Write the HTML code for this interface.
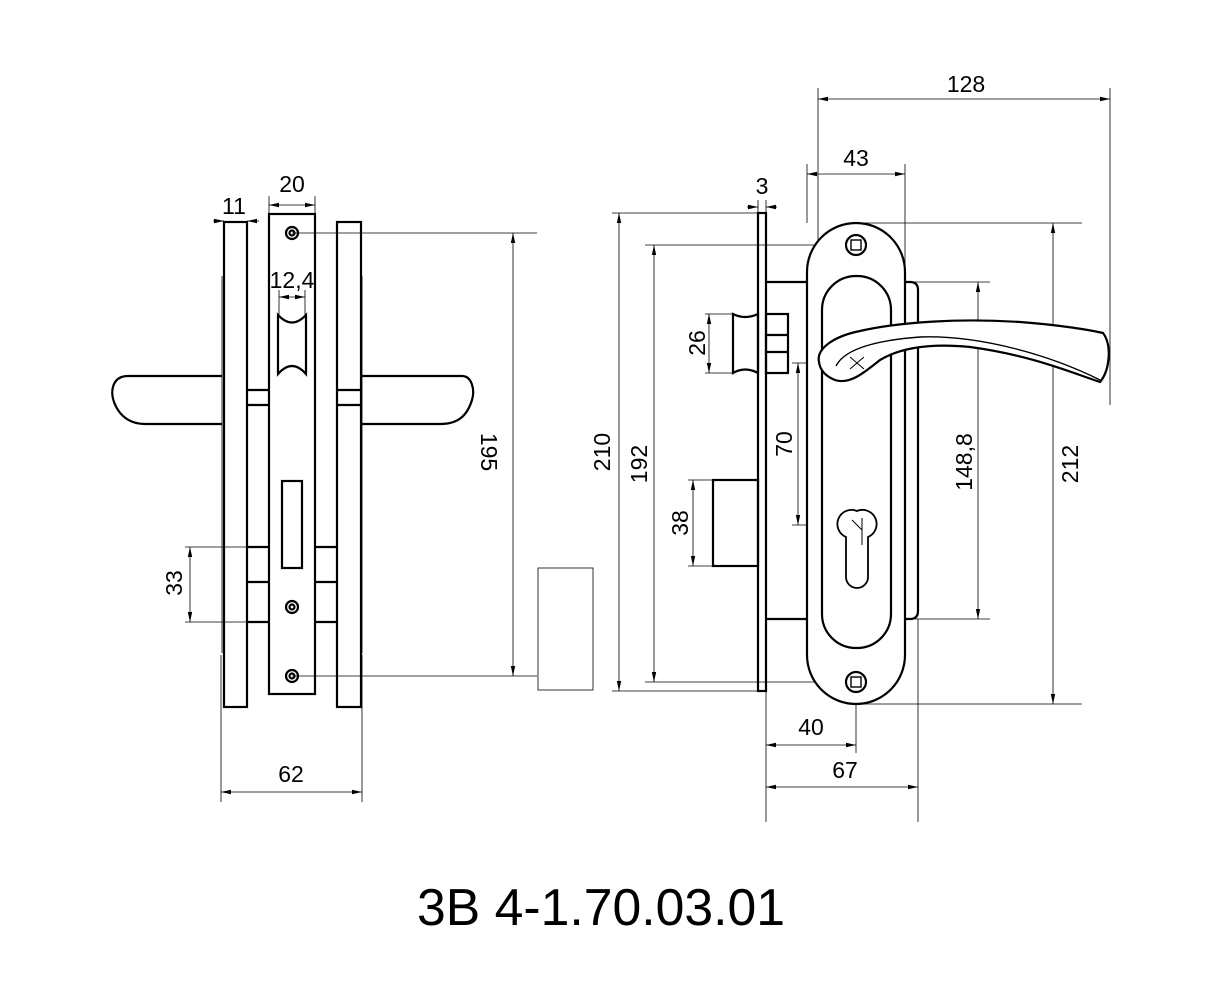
<!DOCTYPE html>
<html><head><meta charset="utf-8"><style>html,body{margin:0;padding:0;background:#fff}svg{display:block}</style></head>
<body>
<svg width="1223" height="1000" viewBox="0 0 1223 1000" xmlns="http://www.w3.org/2000/svg" font-family="Liberation Sans, sans-serif">
<defs>
<marker id="a" viewBox="0 0 10 6" refX="10" refY="3" markerWidth="10" markerHeight="6" orient="auto-start-reverse" markerUnits="userSpaceOnUse"><path d="M0,0.8 L10,3 L0,5.2z" fill="#000"/></marker>
</defs>
<rect width="1223" height="1000" fill="#fff"/>
<g stroke="#000" stroke-width="0.8" fill="none">
<line x1="292" y1="233" x2="537" y2="233"/><line x1="292" y1="676" x2="537" y2="676"/>
<line x1="513" y1="233" x2="513" y2="676" marker-start="url(#a)" marker-end="url(#a)"/>
<line x1="185" y1="547" x2="247" y2="547"/><line x1="185" y1="622" x2="247" y2="622"/>
<line x1="190" y1="547" x2="190" y2="622" marker-start="url(#a)" marker-end="url(#a)"/>
<line x1="213" y1="221" x2="224" y2="221" marker-end="url(#a)"/><line x1="259" y1="221" x2="247" y2="221" marker-end="url(#a)"/>
<line x1="269" y1="196" x2="269" y2="214"/><line x1="315" y1="196" x2="315" y2="214"/>
<line x1="269" y1="205" x2="315" y2="205" marker-start="url(#a)" marker-end="url(#a)"/>
<line x1="279" y1="290" x2="279" y2="315"/><line x1="305" y1="290" x2="305" y2="315"/>
<line x1="279" y1="297" x2="305" y2="297" marker-start="url(#a)" marker-end="url(#a)"/>
<line x1="221" y1="655" x2="221" y2="802"/><line x1="362" y1="655" x2="362" y2="802"/>
<line x1="221" y1="792" x2="362" y2="792" marker-start="url(#a)" marker-end="url(#a)"/>
<rect x="538" y="568" width="55" height="122"/>
<line x1="612" y1="213" x2="758" y2="213"/><line x1="612" y1="691" x2="758" y2="691"/>
<line x1="619" y1="213" x2="619" y2="691" marker-start="url(#a)" marker-end="url(#a)"/>
<line x1="645" y1="245" x2="856" y2="245"/><line x1="645" y1="682" x2="856" y2="682"/>
<line x1="654" y1="245" x2="654" y2="682" marker-start="url(#a)" marker-end="url(#a)"/>
<line x1="705" y1="314" x2="733" y2="314"/><line x1="705" y1="373" x2="733" y2="373"/>
<line x1="709" y1="314" x2="709" y2="373" marker-start="url(#a)" marker-end="url(#a)"/>
<line x1="688" y1="480" x2="713" y2="480"/><line x1="688" y1="566" x2="713" y2="566"/>
<line x1="693" y1="480" x2="693" y2="566" marker-start="url(#a)" marker-end="url(#a)"/>
<line x1="792" y1="363" x2="868" y2="363"/><line x1="792" y1="525" x2="868" y2="525"/>
<line x1="798" y1="363" x2="798" y2="525" marker-start="url(#a)" marker-end="url(#a)"/>
<line x1="905" y1="282" x2="990" y2="282"/><line x1="915" y1="619" x2="990" y2="619"/>
<line x1="978" y1="282" x2="978" y2="619" marker-start="url(#a)" marker-end="url(#a)"/>
<line x1="856" y1="223" x2="1082" y2="223"/><line x1="860" y1="704" x2="1082" y2="704"/>
<line x1="1053" y1="223" x2="1053" y2="704" marker-start="url(#a)" marker-end="url(#a)"/>
<line x1="818" y1="88" x2="818" y2="373"/><line x1="1110" y1="88" x2="1110" y2="405"/>
<line x1="818" y1="99" x2="1110" y2="99" marker-start="url(#a)" marker-end="url(#a)"/>
<line x1="807" y1="164" x2="807" y2="223"/><line x1="905" y1="164" x2="905" y2="282"/>
<line x1="807" y1="174" x2="905" y2="174" marker-start="url(#a)" marker-end="url(#a)"/>
<line x1="758" y1="200" x2="758" y2="213"/><line x1="766" y1="200" x2="766" y2="213"/>
<line x1="747" y1="207" x2="758" y2="207" marker-end="url(#a)"/><line x1="777" y1="207" x2="766" y2="207" marker-end="url(#a)"/>
<line x1="766" y1="691" x2="766" y2="822"/><line x1="856" y1="690" x2="856" y2="753"/><line x1="918" y1="619" x2="918" y2="822"/>
<line x1="766" y1="745" x2="856" y2="745" marker-start="url(#a)" marker-end="url(#a)"/>
<line x1="766" y1="787" x2="918" y2="787" marker-start="url(#a)" marker-end="url(#a)"/>
<line x1="222" y1="276" x2="222" y2="653"/><line x1="362" y1="276" x2="362" y2="653"/>
</g>
<g stroke="#000" stroke-width="2.2" fill="none">
<rect x="224" y="222" width="23" height="485"/>
<rect x="337" y="222" width="24" height="485"/>
<rect x="269" y="214" width="46" height="480"/>
<path d="M222,376 H128 C112,376 110,392 114,402 C120,418 132,424 145,424 H222"/>
<path d="M362,376 H462 C472,376 475,390 472,400 C467,416 458,424 440,424 H362"/>
<path d="M247,390 H269 M247,405 H269 M337,390 H361 M337,405 H361"/>
<path d="M247,547 H269 M247,582 H269 M247,622 H269 M315,547 H337 M315,582 H337 M315,622 H337"/>
<path d="M278,315 Q292,330 306,315 V374 Q292,358 278,374 Z"/>
<rect x="282" y="481" width="20" height="87"/>
<circle cx="292" cy="233" r="6"/><circle cx="292" cy="233" r="2.5"/>
<circle cx="292" cy="607" r="6"/><circle cx="292" cy="607" r="2.5"/>
<circle cx="292" cy="676" r="6"/><circle cx="292" cy="676" r="2.5"/>
<rect x="758" y="213" width="8" height="478"/>
<path d="M766,282 H910 Q918,282 918,290 V611 Q918,619 910,619 H766"/>
<path d="M733,314 Q745,320 758,314 V373 Q745,366 733,373 Z"/>
<rect x="766" y="314" width="22" height="59"/><path d="M766,335 H788 M766,352 H788"/>
<rect x="713" y="480" width="45" height="86"/>
<rect x="807" y="223" width="98" height="481" rx="49" fill="#fff"/>
<rect x="822" y="276" width="69" height="372" rx="34"/>
<circle cx="856" cy="245" r="10"/><rect x="851" y="240" width="10" height="10" stroke-width="1.4"/>
<circle cx="856" cy="682" r="10"/><rect x="851" y="677" width="10" height="10" stroke-width="1.4"/>
<path d="M857,511 a14,14 0 1 1 11,26 V577 a11,11 0 0 1 -22,0 V537 a14,14 0 0 1 11,-26 Z" stroke-width="1.8"/>
<path d="M819,362 C816,348 835,336 860,331 C900,322 960,318 1020,322 C1060,325 1090,330 1103,333 C1112,345 1110,370 1100,382 C1070,372 1030,355 970,347 C930,343 900,348 880,360 C865,372 850,385 835,380 C825,376 820,370 819,362 Z" fill="#fff"/>
<path d="M836,366 C845,348 880,340 920,337 C980,335 1050,355 1100,380" stroke-width="1.4"/>
</g>
<g stroke="#000" stroke-width="1" fill="none">
<path d="M850,357 L864,369 M864,357 L850,369"/>
<path d="M862,518 V545 M852,520 L862,530"/>
</g>
<g font-size="23" fill="#000" text-anchor="middle">
<text x="234" y="214">11</text>
<text x="292" y="192">20</text>
<text x="292" y="288">12,4</text>
<text x="291" y="782">62</text>
<text transform="translate(481,452) rotate(90)">195</text>
<text transform="translate(182,583) rotate(-90)">33</text>
<text transform="translate(610,452) rotate(-90)">210</text>
<text transform="translate(647,464) rotate(-90)">192</text>
<text transform="translate(705,343) rotate(-90)">26</text>
<text transform="translate(688,523) rotate(-90)">38</text>
<text transform="translate(792,444) rotate(-90)">70</text>
<text transform="translate(972,462) rotate(-90)">148,8</text>
<text transform="translate(1078,464) rotate(-90)">212</text>
<text x="966" y="92">128</text>
<text x="856" y="166">43</text>
<text x="762" y="194">3</text>
<text x="811" y="735">40</text>
<text x="845" y="778">67</text>
</g>
<text x="417" y="925" font-size="52" textLength="368" lengthAdjust="spacingAndGlyphs" fill="#000">3B 4-1.70.03.01</text>
</svg>
</body></html>
